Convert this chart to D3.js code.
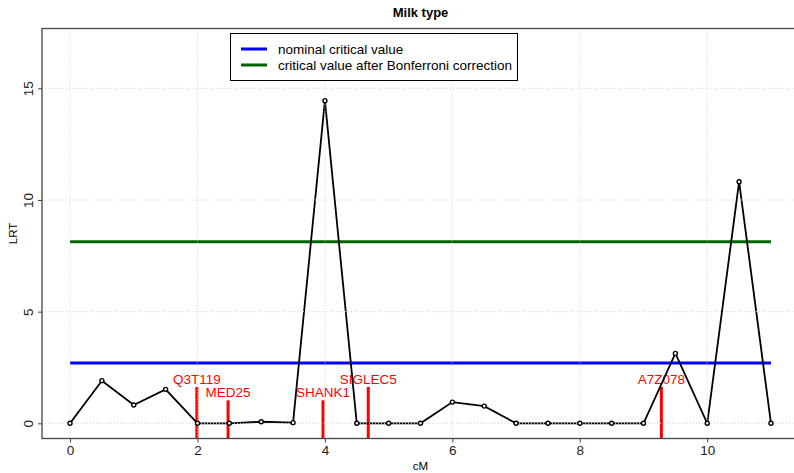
<!DOCTYPE html>
<html lang="en">
<head>
    <meta charset="UTF-8">
    <title>Milk type</title>
    <style>
        body { margin: 0; background: #fff; }
        svg { display: block; font-family: "Liberation Sans", Arial, sans-serif; }
    </style>
</head>
<body>
<svg id="chart" width="794" height="473"></svg>
<script src="https://d3js.org/d3.v7.min.js"></script>
<script>
    /* global d3 */

    // LRT profile along the chromosome
    let positions = [0, 0.5, 1, 1.5, 2, 2.5, 3, 3.5, 4, 4.5, 5, 5.5, 6, 6.5, 7, 7.5, 8, 8.5, 9, 9.5, 10, 10.5, 11];
    let lrt = [0, 1.91, 0.82, 1.52, 0, 0, 0.07, 0.03, 14.45, 0, 0, 0, 0.95, 0.77, 0, 0, 0, 0, 0, 3.13, 0, 10.82, 0];

    // critical values
    let nominal = 2.706;
    let bonferroni = 8.13;

    // gene markers
    let genes = ["Q3T119", "MED25", "SHANK1", "SIGLEC5", "A7Z078"];
    let genePos = [1.99, 2.48, 3.97, 4.68, 9.28];
    let geneHeight = [1.63, 1.03, 1.03, 1.63, 1.63];

    let xTicks = [0, 2, 4, 6, 8, 10];
    let yTicks = [0, 5, 10, 15];

    let fs = 13.5;

    let svg = d3.select("#chart"),
        x = d3.scaleLinear().domain([-0.44, 11.44]).range([42, 799]),
        y = d3.scaleLinear().domain([-0.68, 17.68]).range([438.5, 28.5]);

    // threshold lines
    svg.append("line")
        .attr("x1", x(0)).attr("x2", x(11))
        .attr("y1", y(nominal)).attr("y2", y(nominal))
        .attr("stroke", "#0000ff").attr("stroke-width", 3);
    svg.append("line")
        .attr("x1", x(0)).attr("x2", x(11))
        .attr("y1", y(bonferroni)).attr("y2", y(bonferroni))
        .attr("stroke", "#006400").attr("stroke-width", 3);

    // gene markers
    genes.forEach(function (g, i) {
        svg.append("line")
            .attr("x1", x(genePos[i])).attr("x2", x(genePos[i]))
            .attr("y1", y(-0.68)).attr("y2", y(geneHeight[i]))
            .attr("stroke", "#ff0000").attr("stroke-width", 3);
        svg.append("text")
            .attr("x", x(genePos[i]))
            .attr("y", y(geneHeight[i]) - 3)
            .attr("text-anchor", "middle")
            .attr("font-size", fs)
            .attr("fill", "#ff0000")
            .text(g);
    });

    // data line
    let line = d3.line()
        .x(function (d, i) { return x(positions[i]); })
        .y(function (d) { return y(d); });
    svg.append("path")
        .datum(lrt)
        .attr("d", line)
        .attr("fill", "none")
        .attr("stroke", "#000")
        .attr("stroke-width", 1.8);

    // grid drawn on top, like grid() after plot()
    let grid = svg.append("g")
        .attr("stroke", "#d3d3d3")
        .attr("stroke-width", 1)
        .attr("stroke-dasharray", "1,2");
    xTicks.forEach(function (t) {
        grid.append("line")
            .attr("x1", x(t)).attr("x2", x(t))
            .attr("y1", y(-0.68)).attr("y2", y(17.68));
    });
    yTicks.forEach(function (t) {
        grid.append("line")
            .attr("x1", x(-0.44)).attr("x2", x(11.44))
            .attr("y1", y(t)).attr("y2", y(t));
    });

    svg.append("g").selectAll("circle")
        .data(lrt)
        .join("circle")
        .attr("cx", function (d, i) { return x(positions[i]); })
        .attr("cy", function (d) { return y(d); })
        .attr("r", 2)
        .attr("fill", "#fff")
        .attr("stroke", "#000")
        .attr("stroke-width", 1.4);

    // box
    svg.append("rect")
        .attr("x", 42).attr("y", 28.5)
        .attr("width", 757).attr("height", 410)
        .attr("fill", "none")
        .attr("stroke", "#444")
        .attr("stroke-width", 1.3);

    // axes
    let xAxis = svg.append("g")
        .attr("transform", "translate(0,438.5)")
        .call(d3.axisBottom(x).tickValues(xTicks).tickSize(4).tickPadding(3).tickFormat(d3.format("d")));
    xAxis.select(".domain").remove();
    xAxis.selectAll("text").attr("font-size", fs).attr("fill", "#222")
        .attr("font-family", "Liberation Sans, Arial, sans-serif");
    xAxis.selectAll("line").attr("stroke", "#444");

    let yAxis = svg.append("g")
        .attr("transform", "translate(42,0)")
        .call(d3.axisLeft(y).tickValues(yTicks).tickSize(4).tickFormat(d3.format("d")));
    yAxis.select(".domain").remove();
    yAxis.selectAll("line").attr("stroke", "#444");
    yAxis.selectAll("text")
        .attr("font-size", fs).attr("fill", "#222")
        .attr("font-family", "Liberation Sans, Arial, sans-serif")
        .attr("x", 0).attr("dy", 0)
        .attr("text-anchor", "middle")
        .attr("transform", "translate(-9,0) rotate(-90)");

    // labels
    svg.append("text")
        .attr("x", 420.5).attr("y", 17)
        .attr("text-anchor", "middle")
        .attr("font-size", 13).attr("font-weight", "bold")
        .text("Milk type");
    svg.append("text")
        .attr("x", 420.5).attr("y", 470)
        .attr("text-anchor", "middle")
        .attr("font-size", 11.5)
        .text("cM");
    svg.append("text")
        .attr("transform", "translate(16.5,233.5) rotate(-90)")
        .attr("text-anchor", "middle")
        .attr("font-size", 11.5)
        .text("LRT");

    // legend
    let legendItems = ["nominal critical value", "critical value after Bonferroni correction"];
    let legendColors = ["#0000ff", "#006400"];
    let legend = svg.append("g");
    legend.append("rect")
        .attr("x", 230.5).attr("y", 33.5)
        .attr("width", 287).attr("height", 47)
        .attr("fill", "#fff")
        .attr("stroke", "#000");
    legendItems.forEach(function (t, i) {
        let ly = 49 + i * 16;
        legend.append("line")
            .attr("x1", 241).attr("x2", 267)
            .attr("y1", ly).attr("y2", ly)
            .attr("stroke", legendColors[i]).attr("stroke-width", 3);
        legend.append("text")
            .attr("x", 278).attr("y", ly)
            .attr("dy", "0.35em")
            .attr("font-size", fs)
            .text(t);
    });
</script>
</body>
</html>
